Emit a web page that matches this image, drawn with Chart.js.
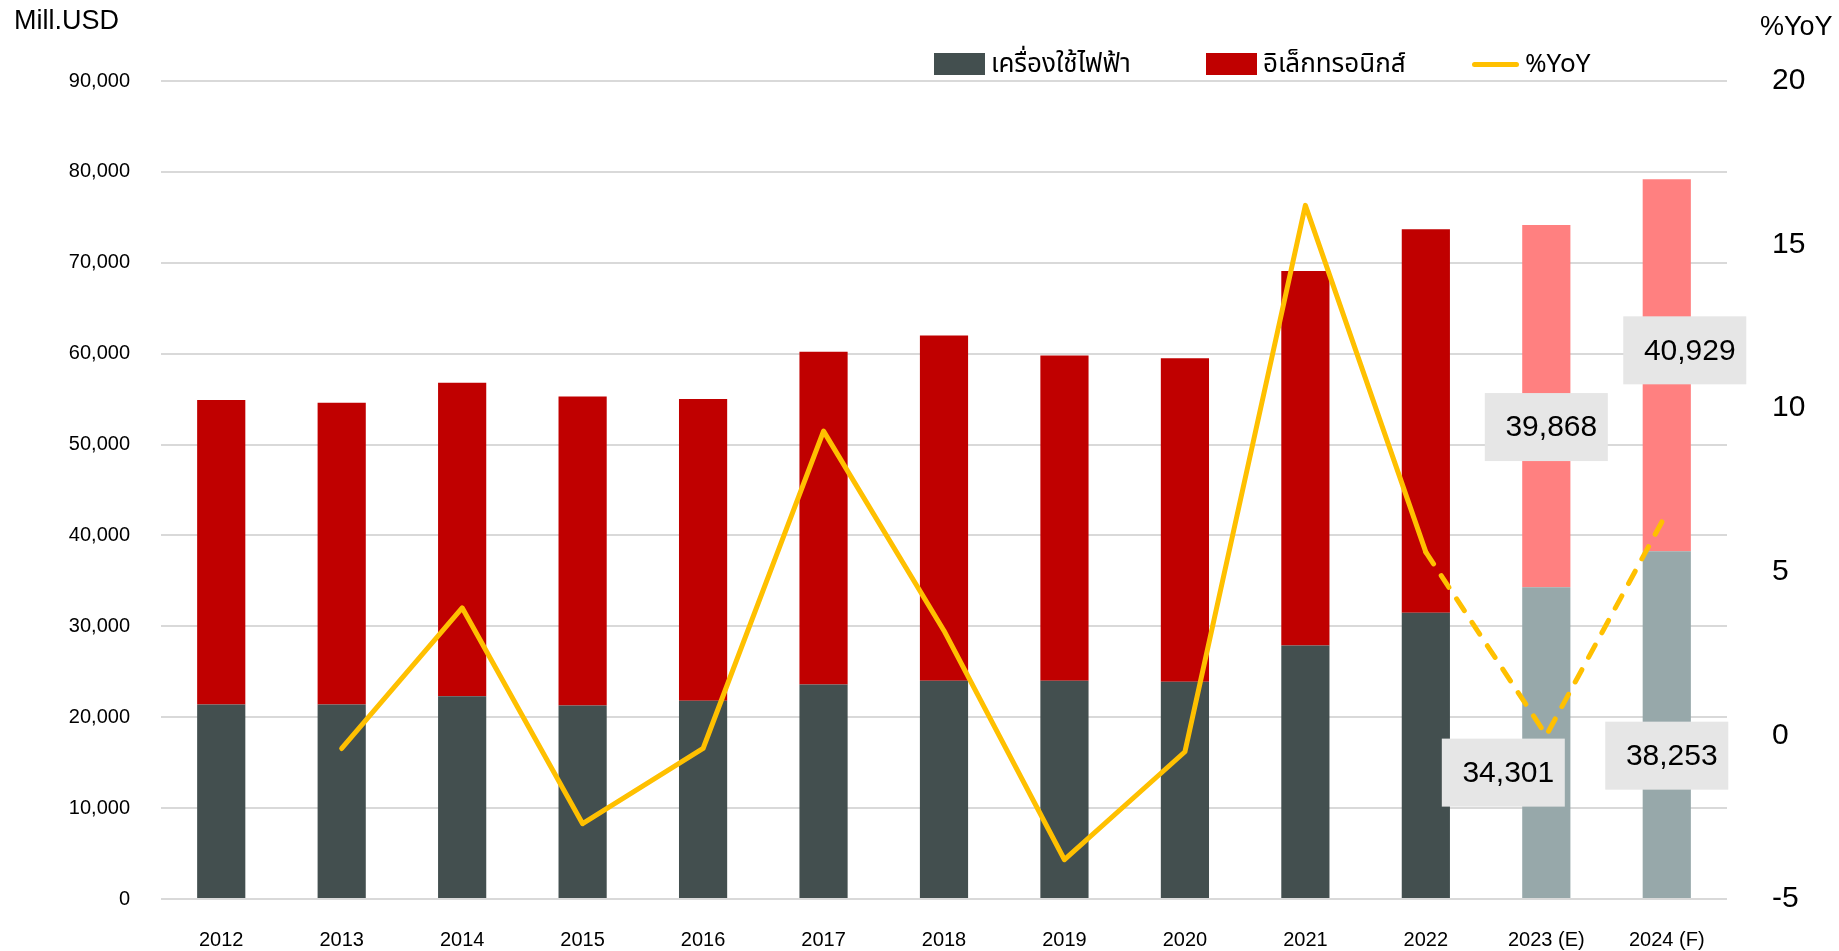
<!DOCTYPE html>
<html>
<head>
<meta charset="utf-8">
<script src="https://cdn.jsdelivr.net/npm/chart.js@4.4.1/dist/chart.umd.min.js"></script>
<style>
  html, body { margin: 0; padding: 0; background: #fff; overflow: hidden; }
  #wrap { position: relative; width: 1839px; height: 951px; }
  canvas { display: block; }
  #legend { position: absolute; left: 0; top: 0; font-family: 'Noto Sans Thai', 'Noto Sans Thai Looped', 'Noto Sans', 'Liberation Sans', sans-serif; font-size: 26px; color: #000; }
  .item { position: absolute; top: 49px; height: 30px; display: flex; align-items: center; white-space: nowrap; }
  .swatch { width: 51px; height: 22px; margin-right: 6px; }
  .stroke { width: 47px; height: 5px; border-radius: 3px; margin-right: 6px; }
</style>
</head>
<body>
<div id="wrap">
  <canvas id="chart" width="1839" height="951"></canvas>
  <div id="legend"></div>
</div>
<script>
const years = ['2012', '2013', '2014', '2015', '2016', '2017', '2018', '2019', '2020', '2021', '2022', '2023 (E)', '2024 (F)'];
const appliances = [21400, 21400, 22300, 21300, 21800, 23600, 24000, 24000, 23900, 27900, 31500, 34301, 38253];
const electronics = [33500, 33200, 34500, 34000, 33200, 36600, 38000, 35800, 35600, 41200, 42200, 39868, 40929];
const yoy = [null, -0.4, 3.9, -2.7, -0.4, 9.3, 3.2, -3.8, -0.5, 16.2, 5.6, 0.0, 6.8];
const seriesNames = ['เครื่องใช้ไฟฟ้า', 'อิเล็กทรอนิกส์', '%YoY'];

const firstForecast = 11;
const darkCol = '#434F4F', lightCol = '#97A8AA';
const redCol = '#C00000', pinkCol = '#FF8080';
const yoyCol = '#FFC000';

const colorsFor = (a, b) => years.map((_, i) => i >= firstForecast ? b : a);

// boxed value labels for the forecast bars (pixel nudges from segment middle)
const boxLabels = [
  { ds: 1, i: 11, dx: -43, dy: 30 },
  { ds: 1, i: 12, dx: 0, dy: 31 },
  { ds: 2, i: 11, dx: 0, dy: 21 },
  { ds: 2, i: 12, dx: 18, dy: -15 }
];

const extras = {
  id: 'extras',
  afterDatasetsDraw(chart) {
    const ctx = chart.ctx;
    ctx.save();
    ctx.font = '30px "Liberation Sans", Arial, sans-serif';
    ctx.textAlign = 'center';
    ctx.textBaseline = 'middle';
    boxLabels.forEach(l => {
      const el = chart.getDatasetMeta(l.ds).data[l.i];
      const v = chart.data.datasets[l.ds].data[l.i];
      const cx = el.x + l.dx;
      const cy = (el.y + el.base) / 2 + l.dy;
      ctx.fillStyle = '#E6E6E6';
      ctx.fillRect(cx - 61.5, cy - 34, 123, 68);
      ctx.fillStyle = '#000';
      ctx.fillText(v.toLocaleString('en-US'), cx + 5, cy + 1);
    });
    ctx.restore();
  },
  afterDraw(chart) {
    const ctx = chart.ctx;
    ctx.save();
    ctx.fillStyle = '#000';
    ctx.font = '27px "Liberation Sans", Arial, sans-serif';
    ctx.textBaseline = 'middle';
    ctx.textAlign = 'left';
    ctx.fillText('Mill.USD', 14, 22);
    ctx.fillText('%YoY', 1760, 28);
    ctx.restore();
  }
};

Chart.defaults.font.family = '"Liberation Sans", Arial, sans-serif';
Chart.defaults.color = '#000';

new Chart(document.getElementById('chart'), {
  data: {
    labels: years,
    datasets: [
      {
        type: 'line',
        label: seriesNames[2],
        data: yoy,
        yAxisID: 'y1',
        order: 0,
        borderColor: yoyCol,
        borderWidth: 5,
        borderCapStyle: 'round',
        borderJoinStyle: 'round',
        pointRadius: 0,
        tension: 0,
        segment: {
          borderDash: ctx => ctx.p0DataIndex >= firstForecast - 1 ? [14, 14] : undefined
        }
      },
      {
        type: 'bar',
        label: seriesNames[0],
        data: appliances,
        order: 1,
        backgroundColor: colorsFor(darkCol, lightCol),
        barPercentage: 0.4,
        categoryPercentage: 1
      },
      {
        type: 'bar',
        label: seriesNames[1],
        data: electronics,
        order: 1,
        backgroundColor: colorsFor(redCol, pinkCol),
        barPercentage: 0.4,
        categoryPercentage: 1
      }
    ]
  },
  options: {
    responsive: false,
    animation: false,
    layout: { padding: { top: 81, left: 0, right: 0, bottom: 0 } },
    plugins: {
      legend: { display: false },
      tooltip: { enabled: false }
    },
    scales: {
      x: {
        stacked: true,
        grid: { display: false, drawTicks: false },
        border: { display: false },
        ticks: { font: { size: 20 }, padding: 29 },
        afterFit: s => { s.height = 52; }
      },
      y: {
        stacked: true,
        position: 'left',
        min: 0,
        max: 90000,
        ticks: { stepSize: 10000, font: { size: 20 }, padding: 0 },
        grid: { color: '#D9D9D9', lineWidth: 2, drawTicks: true, tickLength: 31, tickColor: 'rgba(0,0,0,0)' },
        border: { display: false },
        afterFit: s => { s.width = 161; }
      },
      y1: {
        position: 'right',
        min: -5,
        max: 20,
        ticks: { stepSize: 5, font: { size: 30 }, padding: 0 },
        grid: { drawOnChartArea: false, drawTicks: true, tickLength: 45, color: 'rgba(0,0,0,0)', tickColor: 'rgba(0,0,0,0)' },
        border: { display: false },
        afterFit: s => { s.width = 112; }
      }
    }
  },
  plugins: [extras]
});

// html legend
const legend = document.getElementById('legend');
const legendItems = [
  { name: seriesNames[0], left: 934, cls: 'swatch', col: darkCol },
  { name: seriesNames[1], left: 1206, cls: 'swatch', col: redCol },
  { name: seriesNames[2], left: 1472, cls: 'stroke', col: yoyCol }
];
legendItems.forEach(it => {
  const d = document.createElement('div');
  d.className = 'item';
  d.style.left = it.left + 'px';
  const sw = document.createElement('span');
  sw.className = it.cls;
  sw.style.background = it.col;
  const t = document.createElement('span');
  t.textContent = it.name;
  d.appendChild(sw);
  d.appendChild(t);
  legend.appendChild(d);
});
</script>
</body>
</html>
